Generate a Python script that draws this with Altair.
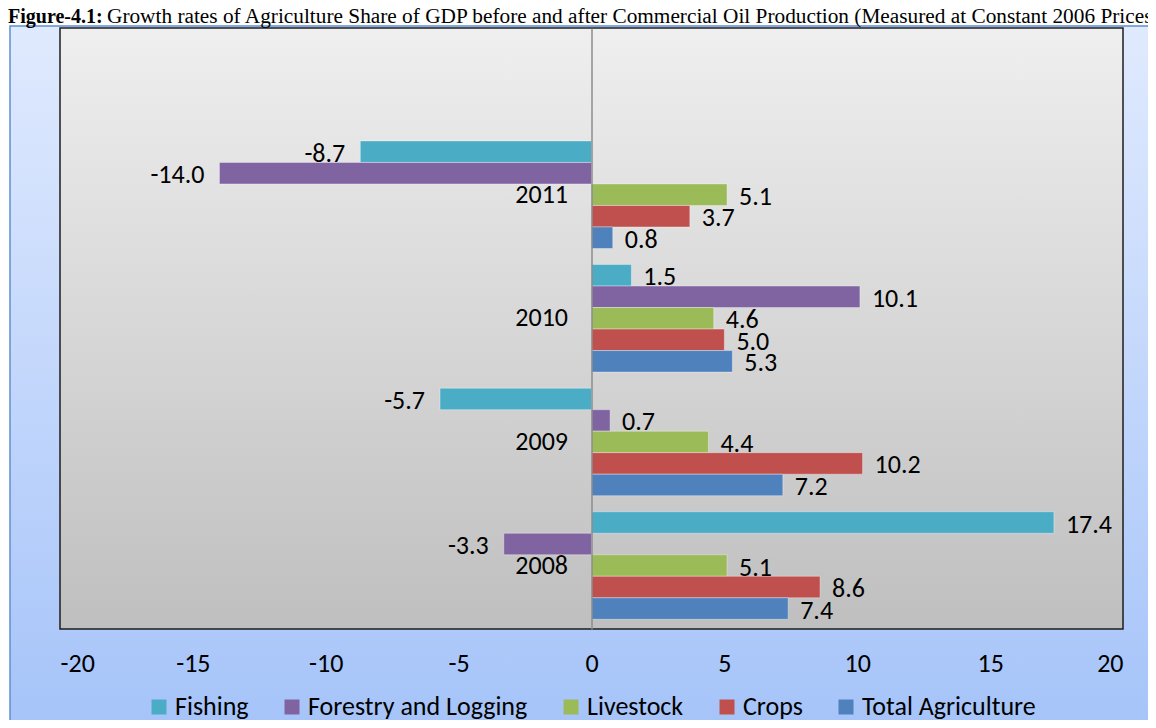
import altair as alt
import pandas as pd

# ---- data ----
years = ["2011", "2010", "2009", "2008"]
sectors = ["Fishing", "Forestry and Logging", "Livestock", "Crops", "Total Agriculture"]
colors = ["#4BACC6", "#8064A2", "#9BBB59", "#C0504D", "#4F81BD"]

fishing = [-8.7, 1.5, -5.7, 17.4]
forestry = [-14.0, 10.1, 0.7, -3.3]
livestock = [5.1, 4.6, 4.4, 5.1]
crops = [3.7, 5.0, 10.2, 8.6]
total_agri = [0.8, 5.3, 7.2, 7.4]

x_ticks = [-20, -15, -10, -5, 0, 5, 10, 15, 20]

title_bold = "Figure-4.1:"
title_rest = ("Growth rates of Agriculture Share of GDP before and after Commercial Oil "
              "Production (Measured at Constant 2006 Prices)")

series = [fishing, forestry, livestock, crops, total_agri]
rows = []
for s, vals in zip(sectors, series):
    for y, v in zip(years, vals):
        rows.append({"year": y, "sector": s, "value": v, "label": f"{v:.1f}"})
df = pd.DataFrame(rows)

FONT = "Carlito, Lato, sans-serif"
FS = 26
W, H = 1063, 601

y_enc = alt.Y(
    "year:N",
    sort=years,
    scale=alt.Scale(domain=years, paddingInner=0.13, paddingOuter=0.496, align=0.921),
    axis=alt.Axis(
        title=None, offset=-531.5, ticks=False, tickSize=0,
        domainColor="#8c8c8c", domainWidth=1.5,
        labelPadding=24, labelFontSize=FS, labelFont=FONT,
        labelColor="black", zindex=1,
    ),
)
yoff_enc = alt.YOffset(
    "sector:N", sort=sectors,
    scale=alt.Scale(domain=sectors, paddingInner=0, paddingOuter=0),
)
x_enc = alt.X(
    "value:Q",
    scale=alt.Scale(domain=[-20, 20], nice=False, zero=False),
    axis=alt.Axis(
        title=None, values=x_ticks, ticks=False, tickSize=0, domain=False, grid=False,
        labelPadding=21, labelFontSize=FS, labelFont=FONT, labelColor="black",
        zindex=1, labelExpr="toString(datum.value)",
    ),
)

one = alt.Data(values=[{"k": 1}])

outer_bg = alt.Chart(one).mark_rect(
    color=alt.Gradient(
        gradient="linear", x1=0, x2=0, y1=0, y2=1,
        stops=[alt.GradientStop(color="#e0eafe", offset=0),
               alt.GradientStop(color="#a6c4f9", offset=1)],
    ),
    stroke="#5f8fd2", strokeWidth=1.5,
).encode(
    x=alt.value(-50), x2=alt.value(W + 30),
    y=alt.value(-2), y2=alt.value(H + 95),
)

plot_bg = alt.Chart(one).mark_rect(
    color=alt.Gradient(
        gradient="linear", x1=0, x2=0, y1=0, y2=1,
        stops=[alt.GradientStop(color="#efefef", offset=0),
               alt.GradientStop(color="#bfbfbf", offset=1)],
    ),
    stroke="#1e1e1e", strokeWidth=1.5,
).encode(
    x=alt.value(0), x2=alt.value(W),
    y=alt.value(0), y2=alt.value(H),
)

title_b = alt.Chart(one).mark_text(
    text=title_bold, font="Liberation Serif", fontSize=20, fontWeight="bold",
    align="left", baseline="alphabetic", color="black",
).encode(x=alt.value(-52), y=alt.value(-5))

title_r = alt.Chart(one).mark_text(
    text=title_rest, font="Liberation Serif", fontSize=21.3,
    align="left", baseline="alphabetic", color="black",
).encode(x=alt.value(47), y=alt.value(-5))

base = alt.Chart(df)

bars = base.mark_bar(stroke="white", strokeOpacity=0.35, strokeWidth=1).encode(
    x=x_enc,
    y=y_enc,
    yOffset=yoff_enc,
    color=alt.Color(
        "sector:N",
        scale=alt.Scale(domain=sectors, range=colors),
        legend=alt.Legend(
            orient="none", legendX=86, legendY=666, direction="horizontal",
            columns=5, title=None, symbolType="square", symbolSize=225,
            symbolStrokeWidth=0, labelFontSize=FS, labelFont=FONT,
            labelColor="black", labelOffset=3, columnPadding=30, padding=0,
            labelLimit=0, zindex=1,
        ),
    ),
)

pos_labels = base.transform_filter(alt.datum.value >= 0).mark_text(
    align="left", dx=12, dy=2, fontSize=FS, font=FONT, color="black",
).encode(
    x=alt.X("value:Q"), y=alt.Y("year:N", sort=years),
    yOffset=alt.YOffset("sector:N", sort=sectors),
    text=alt.Text("label:N"),
)

neg_labels = base.transform_filter(alt.datum.value < 0).mark_text(
    align="right", dx=-15, dy=2, fontSize=FS, font=FONT, color="black",
).encode(
    x=alt.X("value:Q"), y=alt.Y("year:N", sort=years),
    yOffset=alt.YOffset("sector:N", sort=sectors),
    text=alt.Text("label:N"),
)

chart = alt.layer(
    outer_bg, plot_bg, title_b, title_r, bars, pos_labels, neg_labels
).properties(
    width=W, height=H,
    autosize=alt.AutoSizeParams(type="none"),
    padding={"left": 52, "top": 20, "right": 25, "bottom": 91},
    background="white",
).configure_view(strokeWidth=0)

chart.save("out.html", embed_options={"renderer": "svg", "actions": False})
